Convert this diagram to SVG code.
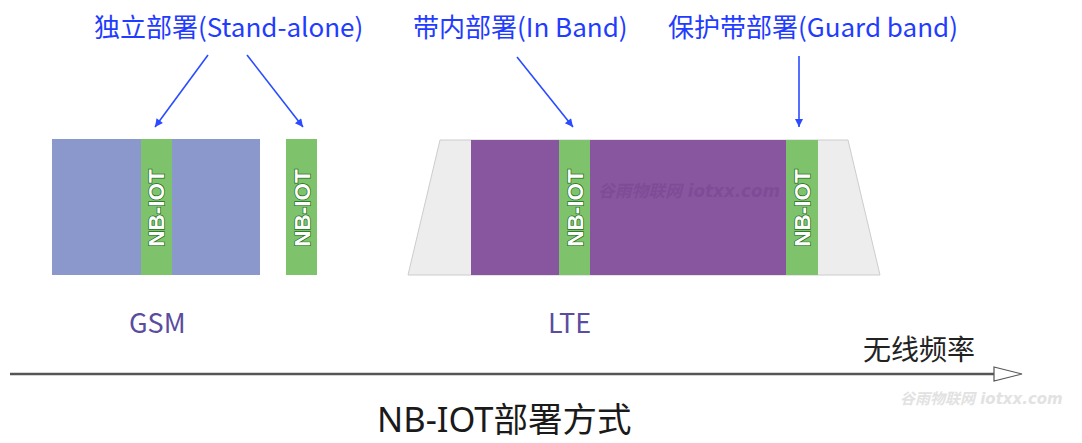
<svg xmlns="http://www.w3.org/2000/svg" width="1082" height="443" viewBox="0 0 1082 443">
<style>
.lbl{font-family:"Noto Sans CJK SC","Noto Sans",sans-serif;font-size:26px;fill:#1f3cff}
.sys{font-family:"Noto Sans CJK SC","Noto Sans",sans-serif;font-size:27px;fill:#5a4c9e}
.nb{font-family:"Liberation Sans",Arial,sans-serif;font-size:22.5px;font-weight:bold;fill:#ffffff;stroke:#1d6b1d;stroke-width:1.4px;paint-order:stroke;text-anchor:middle}
.green{fill:#7ec36b}
.ptr{stroke:#2a4bff;stroke-width:1.6;fill:none}
.wm{font-family:"DejaVu Sans","Noto Sans CJK SC",sans-serif;font-weight:bold;font-style:italic}
</style>
<defs>
<marker id="ah" viewBox="0 0 10 10" refX="10" refY="5" markerWidth="10" markerHeight="8" orient="auto" markerUnits="userSpaceOnUse">
<path d="M0,0 L10,5 L0,10 z" fill="#2a4bff"/>
</marker>
</defs>
<rect width="1082" height="443" fill="#ffffff"/>

<g id="gsm">
<rect x="52" y="139" width="208" height="136" fill="#8a98cb"/>
<rect class="green" x="141" y="139" width="31" height="136"/>
<text class="nb" transform="translate(164,208) rotate(-90)">NB-IOT</text>
<text class="sys" x="129" y="333">GSM</text>
</g>

<g id="standalone-nb">
<rect class="green" x="286" y="139" width="31" height="136"/>
<text class="nb" transform="translate(309.5,208) rotate(-90)">NB-IOT</text>
</g>

<g id="lte">
<polygon points="440,140 848,140 880,275 408,275" fill="#ededed" stroke="#cccccc" stroke-width="1"/>
<rect x="471" y="140" width="315" height="135" fill="#88569f"/>
<text class="wm" x="598" y="197" fill="#7e4c96" font-size="16.8">谷雨物联网 iotxx.com</text>
<rect class="green" x="559" y="140" width="31" height="135"/>
<text class="nb" transform="translate(582.5,208) rotate(-90)">NB-IOT</text>
<rect class="green" x="786" y="140" width="32" height="135"/>
<text class="nb" transform="translate(810,208) rotate(-90)">NB-IOT</text>
<text class="sys" x="548" y="333">LTE</text>
</g>

<g id="labels">
<text class="lbl" x="94" y="37">独立部署(Stand-alone)</text>
<text class="lbl" x="413" y="37">带内部署(In Band)</text>
<text class="lbl" x="668" y="37">保护带部署(Guard band)</text>
</g>

<g id="connectors">
<line class="ptr" x1="208" y1="55" x2="155" y2="127" marker-end="url(#ah)"/>
<line class="ptr" x1="247" y1="55" x2="303" y2="127" marker-end="url(#ah)"/>
<line class="ptr" x1="517" y1="57" x2="573" y2="127" marker-end="url(#ah)"/>
<line class="ptr" x1="799" y1="56" x2="799" y2="127" marker-end="url(#ah)"/>
<line x1="10" y1="374" x2="994" y2="374" stroke="#555555" stroke-width="2.5"/>
<polygon points="994,367 1022,374 994,381" fill="#ffffff" stroke="#555555" stroke-width="1.2"/>
</g>

<g id="axis-label">
<text x="863" y="360" font-family="Noto Sans CJK SC,sans-serif" font-size="28" fill="#222222">无线频率</text>
</g>

<text class="wm" x="900" y="404" fill="#e2e2e2" font-size="15">谷雨物联网 iotxx.com</text>

<g id="title">
<text x="377" y="432" font-family="Noto Sans,Noto Sans CJK SC,sans-serif" font-size="34.5" fill="#1a1a1a">NB-IOT部署方式</text>
</g>
</svg>
